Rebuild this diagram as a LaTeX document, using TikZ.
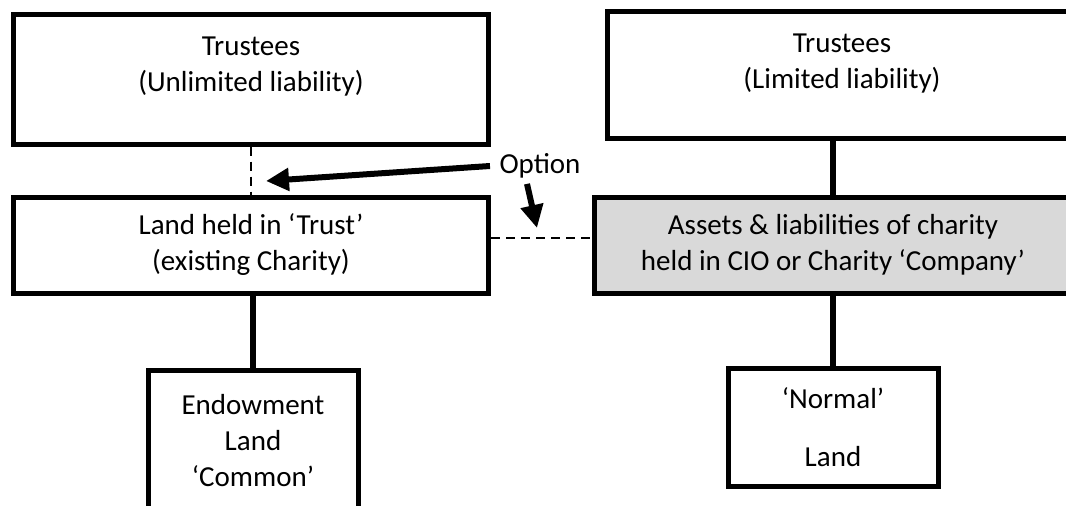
\documentclass[tikz,border=0pt]{standalone}
\usepackage{fontspec}
\setmainfont{Carlito}
\usetikzlibrary{arrows.meta}
\definecolor{ciogray}{RGB}{217,217,217}
\begin{document}
\begin{tikzpicture}[
        x=1pt, y=-1pt,
        txt/.style={font=\fontsize{29pt}{36pt}\selectfont},
        box/.style={txt, draw, line width=5pt, align=center, inner sep=0pt},
        link/.style={line width=5.5pt},
        optlink/.style={line width=2pt, dash pattern=on 9pt off 6pt},
        optarrow/.style={line width=6pt, -{Triangle[length=23pt,width=22pt]}}
    ]
    \clip (0,0) rectangle (1066,506);

    \node[
        box,
        minimum width=475pt,
        minimum height=130pt,
        name=trusta
    ] at (251,79) {Trustees\\(Unlimited liability)\\[-6pt]\mbox{}};
    \node[
        box,
        minimum width=475pt,
        minimum height=96pt,
        name=land
    ] at (251,245) {Land held in ‘Trust’\\(existing Charity)};
    \node[
        box,
        minimum width=210pt,
        minimum height=142pt,
        name=endow
    ] at (253,441) {Endowment\\Land\\‘Common’};

    \node[
        box,
        minimum width=470pt,
        minimum height=127pt,
        name=trustb
    ] at (842,75) {Trustees\\(Limited liability)\\[-9pt]\mbox{}};
    \node[
        box,
        fill=ciogray,
        minimum width=478pt,
        minimum height=96pt,
        name=cio
    ] at (833,245) {Assets \& liabilities of charity\\held in CIO or Charity ‘Company’};
    \node[
        box,
        minimum width=210pt,
        minimum height=118pt,
        name=normal
    ] at (833,427) {‘Normal’\\[22pt]Land};

    \node[txt, name=opt] at (540,166) {Option};
    \coordinate (tipa) at (266,181);
    \coordinate (tipb) at (537,228);

    \draw[optlink] (trusta.south) -- (land.north);
    \draw[optlink] ([yshift=7pt]land.east) -- ([yshift=7pt]land.east -| cio.west);
    \draw[link] (endow.north |- land.south) -- (endow.north);
    \draw[link] (cio.north |- trustb.south) -- (cio.north);
    \draw[link] (cio.south) -- (normal.north);

    \draw[optarrow] ([xshift=-6pt]opt.west) -- (tipa);
    \draw[optarrow] ([xshift=-13pt,yshift=-2pt]opt.south) -- (tipb);
\end{tikzpicture}
\end{document}
